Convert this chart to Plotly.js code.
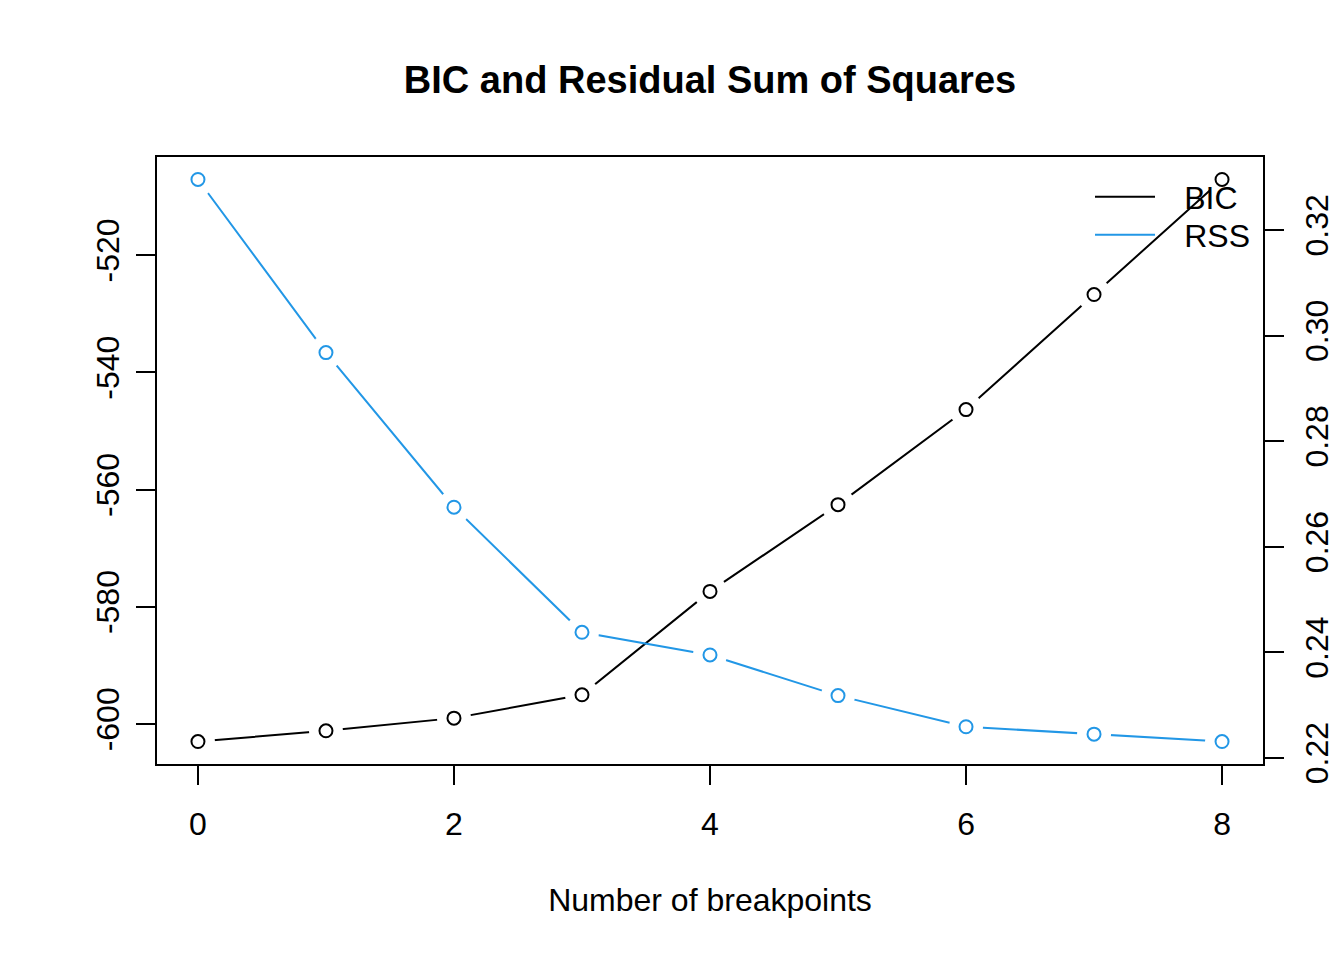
<!DOCTYPE html>
<html>
<head>
<meta charset="utf-8">
<script src="https://cdn.plot.ly/plotly-3.0.1.min.js"></script>
<style>
  html, body { margin: 0; padding: 0; background: #fff; }
  #chart { width: 1344px; height: 960px; }
</style>
</head>
<body>
<div id="chart"></div>
<script>
// values
const breakpoints = [0, 1, 2, 3, 4, 5, 6, 7, 8];
const bic = [-602.97, -601.14, -598.98, -595.0, -577.36, -562.56, -546.34, -526.71, -507.08];
const rss = [0.3296, 0.2968, 0.2675, 0.2438, 0.2395, 0.2318, 0.2259, 0.2245, 0.2231];

const xTicks = [0, 2, 4, 6, 8];
const bicTicks = [-600, -580, -560, -540, -520];
const bicTickText = ['-600', '-580', '-560', '-540', '-520'];
const rssTicks = [0.22, 0.24, 0.26, 0.28, 0.30, 0.32];
const rssTickText = ['0.22', '0.24', '0.26', '0.28', '0.30', '0.32'];

const BLUE = '#2297E6';
const FONT = 'Liberation Sans, Arial, Helvetica, sans-serif';

// R style axis range: data range plus 4% on each side
function padRange(v) {
  let lo = Math.min(...v), hi = Math.max(...v);
  let d = (hi - lo) * 0.04;
  return [lo - d, hi + d];
}

// type="b": line, white gap around each point, open circle on top
function seriesTraces(y, color, yaxis) {
  return [
    { x: breakpoints, y: y, yaxis: yaxis, type: 'scatter', mode: 'lines',
      line: { color: color, width: 2 }, showlegend: false, hoverinfo: 'skip' },
    { x: breakpoints, y: y, yaxis: yaxis, type: 'scatter', mode: 'markers',
      marker: { symbol: 'circle', size: 34, color: '#fff', line: { width: 0 } },
      showlegend: false, hoverinfo: 'skip' },
    { x: breakpoints, y: y, yaxis: yaxis, type: 'scatter', mode: 'markers',
      marker: { symbol: 'circle', size: 13, color: '#fff', line: { color: color, width: 2 } },
      showlegend: false }
  ];
}

// legend entries: line only, like R's legend(lty = 1)
function legendTrace(name, color, yaxis, legendId) {
  return { x: [null], y: [null], yaxis: yaxis, type: 'scatter', mode: 'lines',
    name: '\u00a0\u00a0\u2009' + name, legend: legendId,
    line: { color: color, width: 2 } };
}

let traces = []
  .concat(seriesTraces(bic, '#000', 'y'))
  .concat(seriesTraces(rss, BLUE, 'y2'))
  .concat([legendTrace('BIC', '#000', 'y', 'legend'), legendTrace('RSS', BLUE, 'y2', 'legend2')]);

let axisCommon = {
  showgrid: false, zeroline: false,
  showline: true, linecolor: '#000', linewidth: 2,
  ticks: 'outside', ticklen: 19, tickwidth: 2, tickcolor: '#000',
  tickfont: { family: FONT, size: 32, color: '#000' },
  fixedrange: true
};

let legendCommon = {
  xanchor: 'left', yanchor: 'middle',
  bgcolor: 'rgba(0,0,0,0)', borderwidth: 0,
  font: { family: FONT, size: 32, color: '#000' },
  itemwidth: 60
};

let layout = {
  width: 1344, height: 960,
  margin: { l: 157, r: 81, t: 157, b: 196, pad: 0 },
  paper_bgcolor: '#fff', plot_bgcolor: '#fff',
  font: { family: FONT, size: 32, color: '#000' },
  title: {
    text: '<b>BIC and Residual Sum of Squares</b>',
    font: { family: FONT, size: 38, color: '#000' },
    xref: 'paper', x: 0.5, xanchor: 'center',
    yref: 'container', y: 1 - 80 / 960, yanchor: 'middle'
  },
  xaxis: Object.assign({}, axisCommon, {
    range: padRange(breakpoints), tickvals: xTicks, mirror: true,
    ticklabelstandoff: 12,
    title: { text: 'Number of breakpoints', font: { family: FONT, size: 32, color: '#000' }, standoff: 47 }
  }),
  yaxis: Object.assign({}, axisCommon, {
    range: padRange(bic), tickvals: bicTicks, ticktext: bicTickText, tickangle: -90, mirror: true,
    ticklabelstandoff: 4
  }),
  yaxis2: Object.assign({}, axisCommon, {
    range: padRange(rss), tickvals: rssTicks, ticktext: rssTickText, tickangle: -90,
    overlaying: 'y', side: 'right', ticklabelstandoff: 6
  }),
  showlegend: true,
  legend: Object.assign({}, legendCommon, { x: (1090 - 157) / 1106, y: (764 - 197) / 607 }),
  legend2: Object.assign({}, legendCommon, { x: (1090 - 157) / 1106, y: (764 - 235) / 607 })
};

Plotly.newPlot('chart', traces, layout, { displayModeBar: false, staticPlot: true });
</script>
</body>
</html>
